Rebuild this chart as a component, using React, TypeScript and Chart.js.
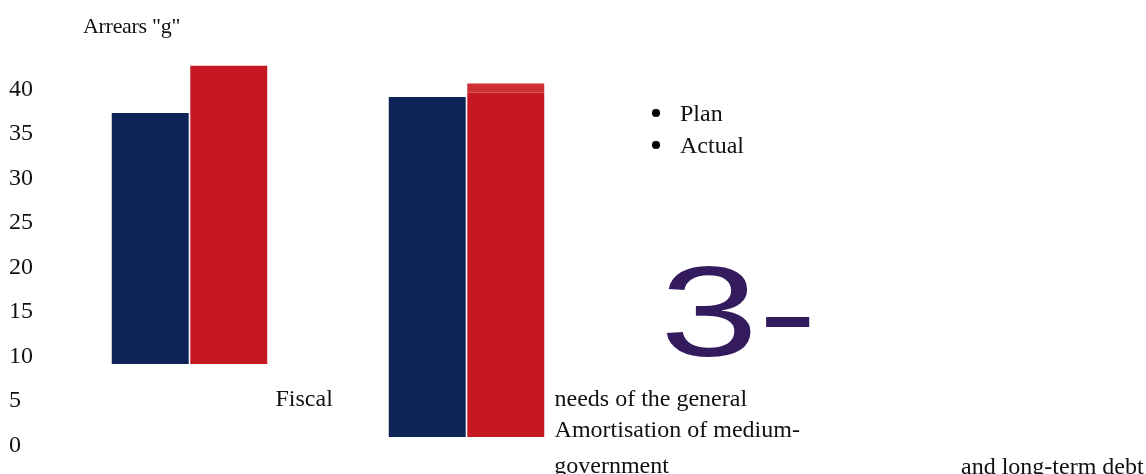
import React, { useEffect, useRef } from "react";
import { Chart, registerables } from "chart.js";

Chart.register(...registerables);

// ---- data ----
const chartTitle = 'Arrears "g"';
const categories = [
  "Fiscal needs of the general government",
  "Amortisation of medium- and long-term debt",
];
const seriesNames = ["Plan", "Actual"];
const planLow = [9, 0.8];
const planHigh = [37.2, 39.0];
const actualLow = [9, 0.8];
const actualHigh = [42.5, 39.5];
const actualCapLow = [null, 39.5];
const actualCapHigh = [null, 40.5];
const yTicks = [0, 5, 10, 15, 20, 25, 30, 35, 40];
const yMin = 0;
const yMax = 45;
const overlayMark = "3-";
const xLabelFragments = [
  "Fiscal",
  "needs of the general",
  "Amortisation of medium-",
  "government",
  "and long-term debt",
];

// ---- styles ----
const NAVY = "#0e2457";
const RED = "#c51822";
const RED_LIGHT = "#cd2f33";
const PURPLE = "#341b5d";
const SERIF = "'Liberation Serif', 'Times New Roman', Times, serif";
const SANS = "'Liberation Sans', Arial, Helvetica, sans-serif";

const fragmentPos = [
  { left: 275.5, top: 386.4 },
  { left: 554.5, top: 386.4 },
  { left: 554.6, top: 417.2 },
  { left: 554.3, top: 453.2 },
  { left: 961, top: 453.5 },
];

export default function App() {
  const canvasRef = useRef<HTMLCanvasElement | null>(null);

  useEffect(() => {
    const canvas = canvasRef.current;
    if (!canvas) return;
    const chart = new Chart(canvas, {
      type: "bar",
      data: {
        labels: categories,
        datasets: [
          {
            label: seriesNames[0],
            data: planLow.map((v, i) => [v, planHigh[i]]) as any,
            backgroundColor: NAVY,
            stack: "plan",
          },
          {
            label: seriesNames[1],
            data: actualLow.map((v, i) => [v, actualHigh[i]]) as any,
            backgroundColor: RED,
            stack: "actual",
          },
          {
            label: seriesNames[1] + " top",
            data: actualCapLow.map((v, i) =>
              v == null ? null : [v, actualCapHigh[i] as number]
            ) as any,
            backgroundColor: RED_LIGHT,
            stack: "actual",
          },
        ],
      },
      options: {
        animation: false,
        responsive: false,
        devicePixelRatio: 1,
        layout: { padding: { top: 43.5, bottom: 30, left: 9, right: 541 } },
        plugins: {
          legend: { display: false },
          tooltip: { enabled: false },
          title: { display: false },
        },
        datasets: {
          bar: { categoryPercentage: 0.567, barPercentage: 0.98 },
        },
        scales: {
          x: { display: false },
          y: {
            min: yMin,
            max: yMax,
            stacked: false,
            grid: { display: false },
            border: { display: false },
            afterBuildTicks: (s: any) => {
              s.ticks = yTicks.map((v) => ({ value: v }));
            },
            afterFit: (s: any) => {
              s.width = 42;
            },
            afterUpdate: (s: any) => {
              const orig = s._computeLabelItems.bind(s);
              s._computeLabelItems = (ca: any) =>
                orig(ca).map((it: any) => ({
                  ...it,
                  options: {
                    ...it.options,
                    translation: [
                      it.options.translation[0],
                      it.options.translation[1] + 1.5,
                    ],
                  },
                }));
            },
            ticks: {
              crossAlign: "far",
              padding: 0,
              color: "#111",
              font: { family: SERIF, size: 24 },
            },
          },
        },
      },
    });
    return () => chart.destroy();
  }, []);

  return (
    <div
      style={{
        position: "fixed",
        left: 0,
        top: 0,
        width: 1146,
        height: 474,
        overflow: "hidden",
        background: "#fff",
        fontFamily: SERIF,
        color: "#111",
      }}
    >
      <canvas
        ref={canvasRef}
        width={1146}
        height={474}
        style={{ position: "absolute", left: 0, top: 0, width: 1146, height: 474 }}
      />
      <div
        style={{
          position: "absolute",
          left: 83,
          top: 14.9,
          fontSize: 22,
          lineHeight: "22px",
          letterSpacing: "-0.3px",
          whiteSpace: "nowrap",
        }}
      >
        {chartTitle}
      </div>
      <div
        style={{
          position: "absolute",
          left: 680,
          top: 96.9,
          fontSize: 24,
          lineHeight: "32px",
        }}
      >
        {seriesNames.map((n) => (
          <div key={n} style={{ position: "relative", whiteSpace: "nowrap" }}>
            <span
              style={{
                position: "absolute",
                left: -27.7,
                top: 12.6,
                width: 7.4,
                height: 7.4,
                borderRadius: "50%",
                background: "#000",
              }}
            />
            {n}
          </div>
        ))}
      </div>
      <div
        style={{
          position: "absolute",
          left: 659.5,
          top: 247.7,
          fontFamily: SANS,
          fontSize: 128,
          lineHeight: "128px",
          color: PURPLE,
          transform: "scaleX(1.38)",
          transformOrigin: "left top",
          whiteSpace: "nowrap",
        }}
      >
        {overlayMark}
      </div>
      {xLabelFragments.map((t, i) => (
        <div
          key={i}
          style={{
            position: "absolute",
            left: fragmentPos[i].left,
            top: fragmentPos[i].top,
            fontSize: 24,
            lineHeight: "24px",
            whiteSpace: "nowrap",
          }}
        >
          {t}
        </div>
      ))}
    </div>
  );
}
